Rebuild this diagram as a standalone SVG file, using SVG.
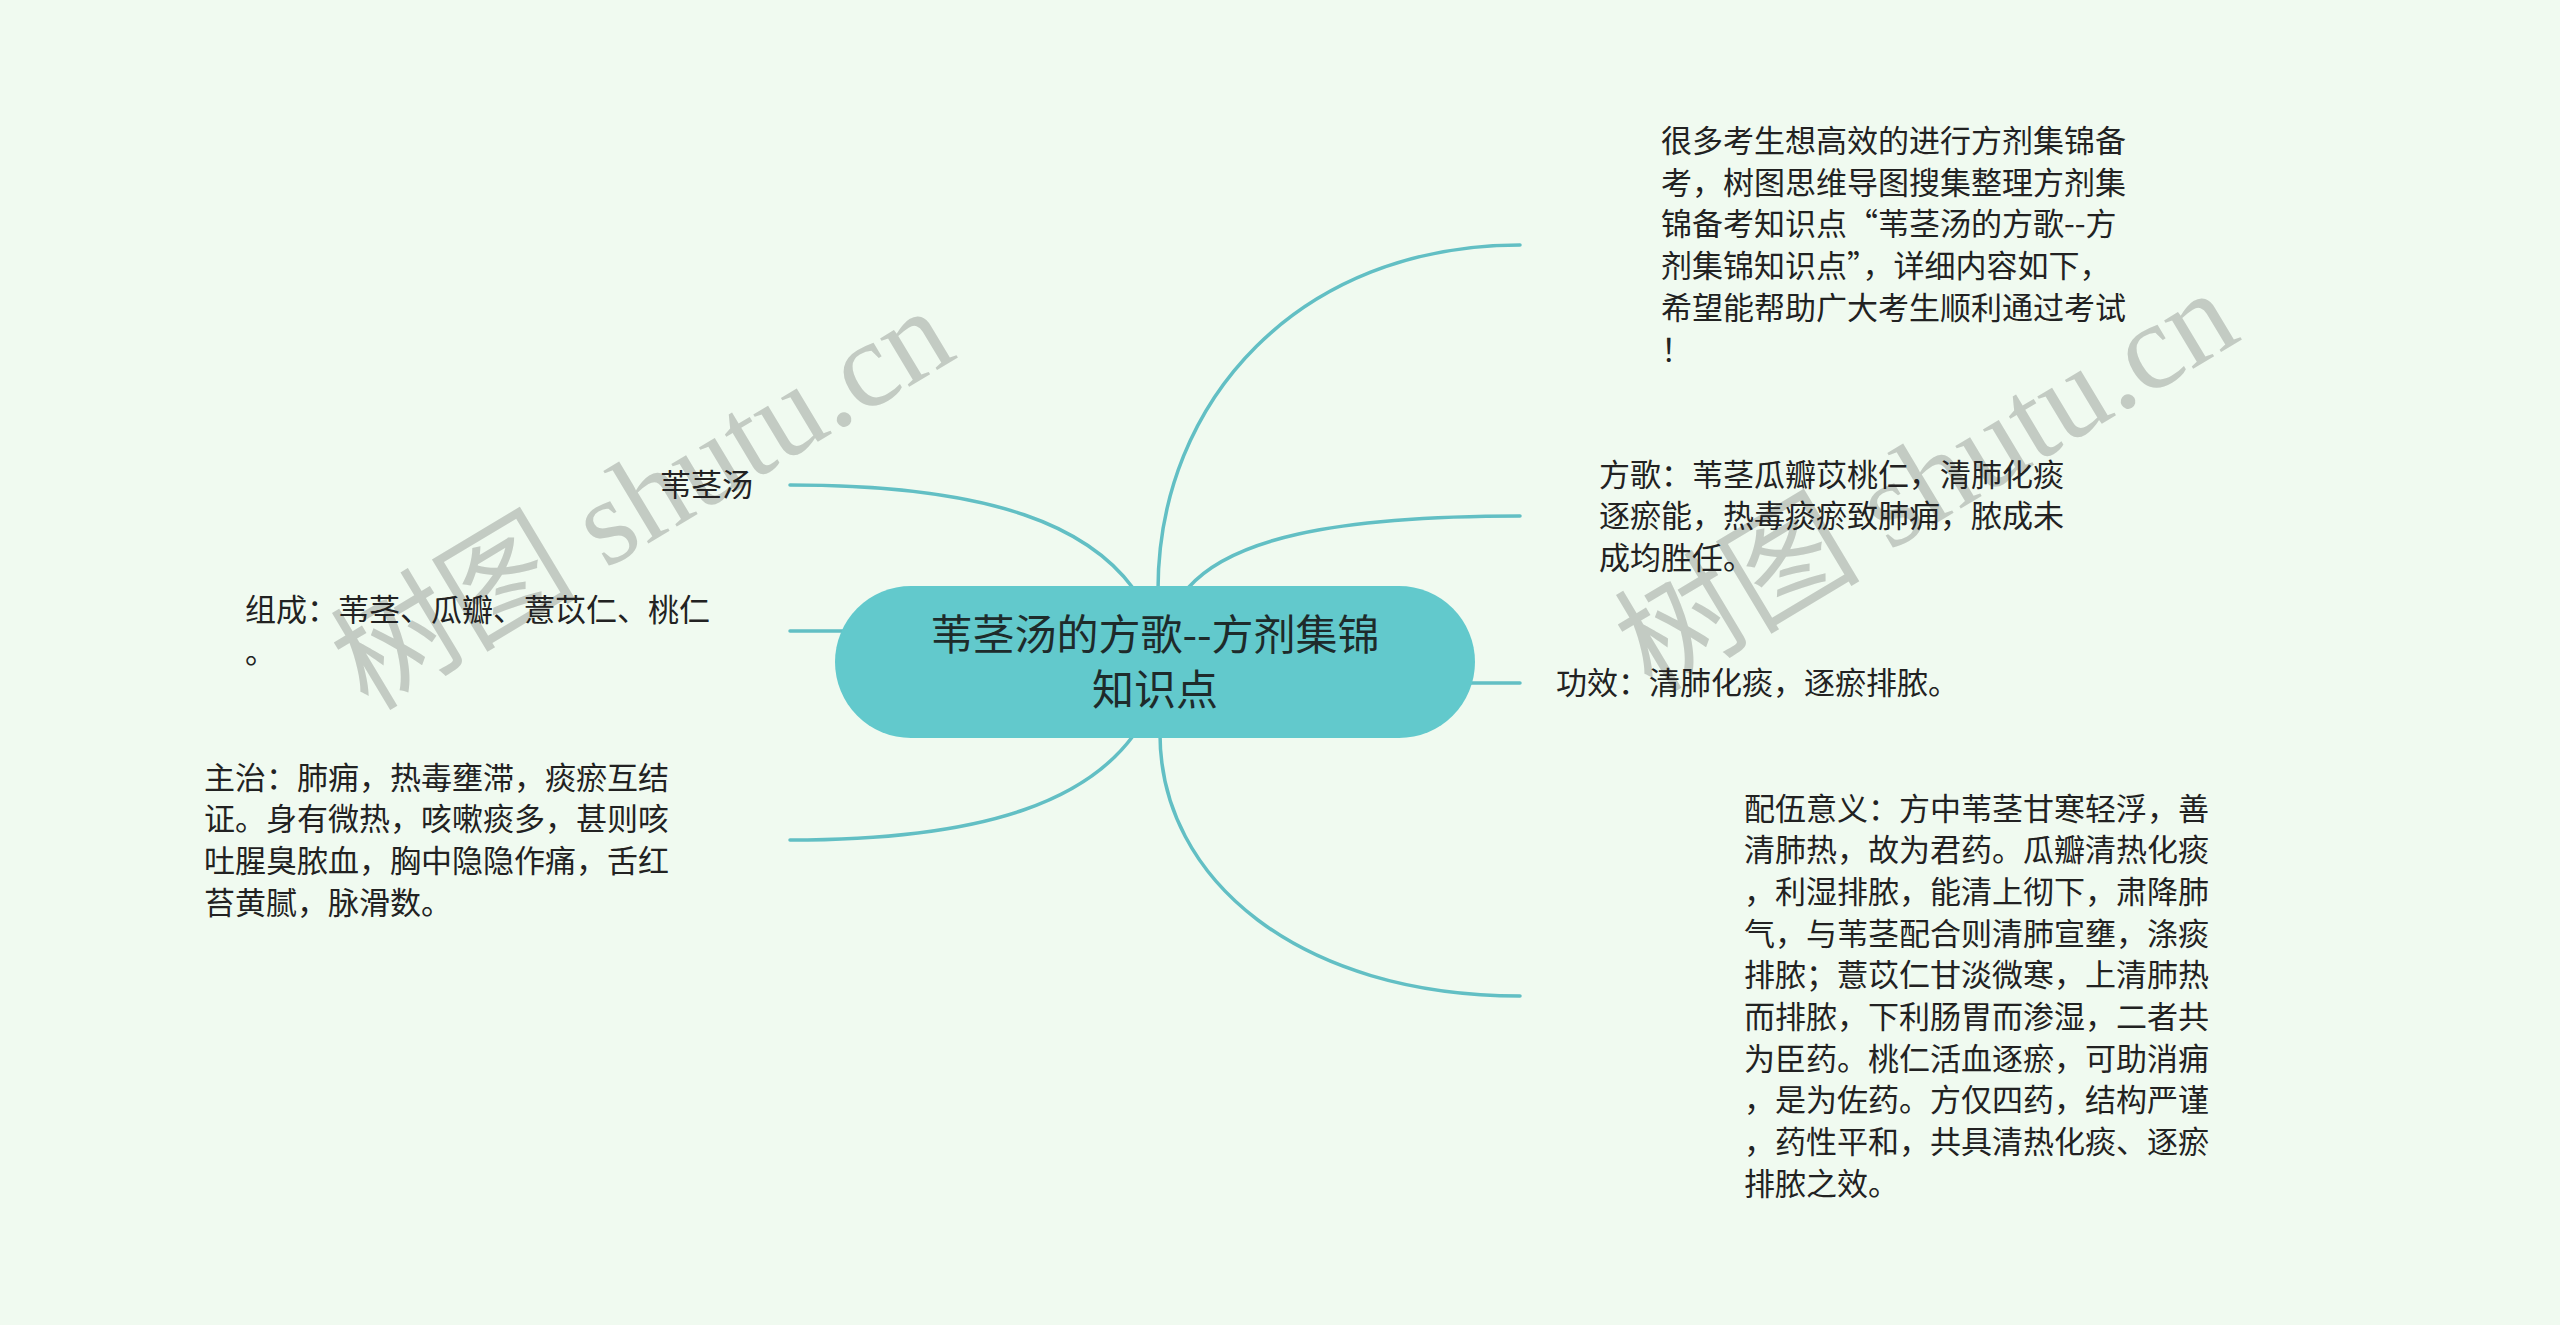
<svg xmlns="http://www.w3.org/2000/svg" width="2560" height="1325" viewBox="0 0 2560 1325">
<style>
.bg{fill:#f0faf0}
.wm{font-family:"Liberation Serif","Noto Sans CJK SC",serif;font-size:123px;fill:#c3cbc3}
.link{fill:none;stroke:#62bfc4;stroke-width:3.5;stroke-linecap:round}
.root{fill:#62c9cc}
.rt{font-family:"Noto Sans CJK SC","Noto Sans",sans-serif;font-size:42px;fill:#1e2b2b;text-anchor:middle}
.t{font-family:"Noto Sans CJK SC","Noto Sans",sans-serif;font-size:31px;fill:#222}
</style>
<rect class="bg" x="0" y="0" width="2560" height="1325"/>
<g id="watermarks">
<text class="wm" transform="translate(368,712) rotate(-31)">树图 shutu.cn</text>
<text class="wm" transform="translate(1652,694) rotate(-31)">树图 shutu.cn</text>
</g>
<g id="connectors">
<path class="link" d="M1158,590 C1158,400 1300,245 1520,245"/>
<path class="link" d="M1188,588 C1230,540 1330,516 1520,516"/>
<path class="link" d="M1460,683 L1520,683"/>
<path class="link" d="M1160,734 C1160,880 1300,996 1520,996"/>
<path class="link" d="M1133,588 C1090,530 1000,485 790,485"/>
<path class="link" d="M790,631 L850,631"/>
<path class="link" d="M1133,736 C1090,794 1000,840 790,840"/>
</g>
<g id="root">
<rect class="root" x="835" y="586" width="640" height="152" rx="76" ry="76"/>
<text class="rt"><tspan x="1155" y="650">苇茎汤的方歌--方剂集锦</tspan><tspan x="1155" y="705">知识点</tspan></text>
</g>
<g id="node-intro">
<text class="t"><tspan x="1661" y="152">很多考生想高效的进行方剂集锦备</tspan><tspan x="1661" dy="41.7">考，树图思维导图搜集整理方剂集</tspan><tspan x="1661" dy="41.7">锦备考知识点“苇茎汤的方歌--方</tspan><tspan x="1661" dy="41.7">剂集锦知识点”，详细内容如下，</tspan><tspan x="1661" dy="41.7">希望能帮助广大考生顺利通过考试</tspan><tspan x="1661" dy="41.7">！</tspan></text>
</g>
<g id="node-fangge">
<text class="t"><tspan x="1599" y="485.5">方歌：苇茎瓜瓣苡桃仁，清肺化痰</tspan><tspan x="1599" dy="41.7">逐瘀能，热毒痰瘀致肺痈，脓成未</tspan><tspan x="1599" dy="41.7">成均胜任。</tspan></text>
</g>
<g id="node-gongxiao">
<text class="t" x="1556" y="694">功效：清肺化痰，逐瘀排脓。</text>
</g>
<g id="node-peiwu">
<text class="t"><tspan x="1744" y="819.5">配伍意义：方中苇茎甘寒轻浮，善</tspan><tspan x="1744" dy="41.7">清肺热，故为君药。瓜瓣清热化痰</tspan><tspan x="1744" dy="41.7">，利湿排脓，能清上彻下，肃降肺</tspan><tspan x="1744" dy="41.7">气，与苇茎配合则清肺宣壅，涤痰</tspan><tspan x="1744" dy="41.7">排脓；薏苡仁甘淡微寒，上清肺热</tspan><tspan x="1744" dy="41.7">而排脓，下利肠胃而渗湿，二者共</tspan><tspan x="1744" dy="41.7">为臣药。桃仁活血逐瘀，可助消痈</tspan><tspan x="1744" dy="41.7">，是为佐药。方仅四药，结构严谨</tspan><tspan x="1744" dy="41.7">，药性平和，共具清热化痰、逐瘀</tspan><tspan x="1744" dy="41.7">排脓之效。</tspan></text>
</g>
<g id="node-name">
<text class="t" x="660" y="496">苇茎汤</text>
</g>
<g id="node-zucheng">
<text class="t"><tspan x="245" y="621">组成：苇茎、瓜瓣、薏苡仁、桃仁</tspan><tspan x="245" dy="41.7">。</tspan></text>
</g>
<g id="node-zhuzhi">
<text class="t"><tspan x="204" y="788.5">主治：肺痈，热毒壅滞，痰瘀互结</tspan><tspan x="204" dy="41.7">证。身有微热，咳嗽痰多，甚则咳</tspan><tspan x="204" dy="41.7">吐腥臭脓血，胸中隐隐作痛，舌红</tspan><tspan x="204" dy="41.7">苔黄腻，脉滑数。</tspan></text>
</g>
</svg>
